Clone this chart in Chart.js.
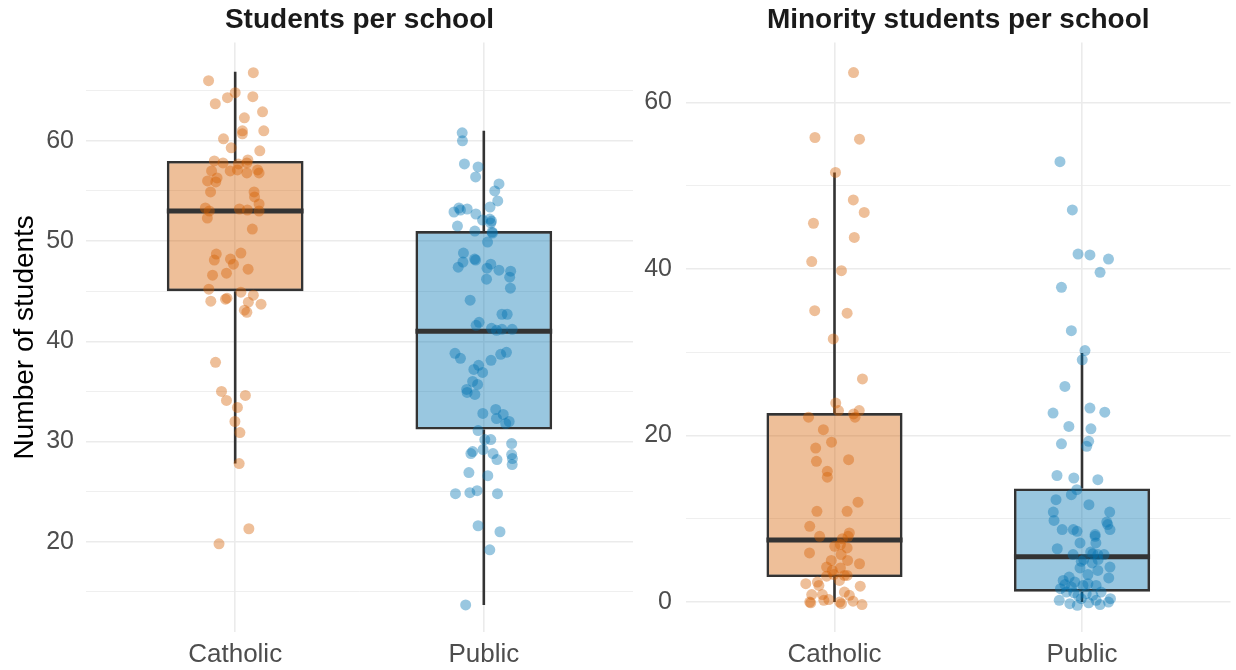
<!DOCTYPE html>
<html>
<head>
<meta charset="utf-8">
<script src="https://cdn.jsdelivr.net/npm/chart.js@4.4.1/dist/chart.umd.min.js"></script>
<style>
  html, body { margin: 0; padding: 0; background: #fff; }
  #wrap { position: relative; width: 1236px; height: 670px; }
  canvas { position: absolute; top: 0; }
  #studentsChart { left: 0; }
  #minorityChart { left: 640px; }
</style>
</head>
<body>
<div id="wrap">
  <canvas id="studentsChart" width="640" height="670"></canvas>
  <canvas id="minorityChart" width="596" height="670"></canvas>
</div>
<script>
const schoolTypes = ["Catholic", "Public"];

// students per school, jitter is the horizontal offset in category units
const catholicStudents = [
  66.0, 66.8, 64.8, 64.3, 64.4, 63.7, 62.9, 62.3, 61.0, 60.7,
  61.0, 60.2, 59.3, 59.0, 58.0, 57.8, 57.7, 58.1, 57.8, 57.0,
  57.0, 57.1, 56.8, 57.1, 56.8, 56.0, 56.3, 55.9, 54.9, 54.9,
  54.4, 53.7, 53.3, 53.0, 53.2, 53.1, 53.0, 52.3, 51.2, 48.7,
  48.8, 48.1, 48.2, 47.7, 47.2, 46.6, 46.8, 45.2, 44.9, 44.0,
  44.2, 44.3, 44.6, 43.9, 43.7, 43.1, 42.9, 37.9, 35.0, 34.6,
  34.1, 33.4, 32.0, 30.9, 27.8, 21.3, 19.8
];
const catholicStudentsJitter = [
  -0.107, 0.073, 0.000, -0.031, 0.071, -0.080, 0.110, 0.037, 0.029, 0.029,
  0.115, -0.047, -0.016, 0.099, -0.084, -0.049, 0.013, 0.051, 0.047, -0.095,
  -0.020, 0.009, 0.047, 0.090, 0.096, -0.111, -0.073, -0.078, -0.099, 0.076,
  0.078, 0.096, -0.120, -0.104, 0.017, 0.049, 0.096, -0.112, 0.069, -0.076,
  0.023, -0.084, -0.019, -0.007, 0.052, -0.091, -0.035, -0.106, 0.023, -0.098,
  -0.039, -0.033, 0.073, 0.053, 0.104, 0.037, 0.047, -0.079, -0.055, 0.041,
  -0.035, 0.009, -0.001, 0.019, 0.016, 0.055, -0.065
];
const publicStudents = [
  60.8, 60.0, 57.7, 57.4, 56.4, 55.7, 55.0, 54.0, 53.4, 53.3,
  52.9, 53.1, 53.2, 52.7, 52.1, 52.2, 52.0, 51.8, 51.5, 50.9,
  51.0, 50.8, 49.9, 48.8, 48.2, 48.1, 47.9, 47.4, 47.7, 47.3,
  47.1, 47.0, 46.4, 46.2, 45.3, 44.1, 42.7, 42.7, 41.9, 41.6,
  41.3, 41.1, 41.2, 41.2, 38.8, 38.3, 38.1, 38.7, 38.9, 37.6,
  37.2, 36.9, 36.0, 35.7, 35.2, 34.9, 34.7, 32.8, 33.2, 32.3,
  32.7, 32.0, 31.8, 31.1, 30.2, 30.2, 29.8, 29.0, 28.8, 29.2,
  28.8, 28.2, 28.7, 28.3, 27.7, 26.9, 26.6, 24.8, 24.9, 25.1,
  24.8, 21.6, 21.0, 19.2, 13.7
];
const publicStudentsJitter = [
  -0.087, -0.086, -0.078, -0.023, -0.033, 0.061, 0.044, 0.056, 0.025, -0.100,
  -0.120, -0.094, -0.067, -0.032, -0.005, 0.024, 0.031, 0.028, -0.106, 0.033,
  -0.036, 0.035, 0.015, -0.082, -0.037, -0.033, -0.084, -0.103, 0.028, 0.013,
  0.061, 0.108, 0.104, 0.011, 0.107, -0.055, 0.073, 0.094, -0.019, -0.031,
  0.031, 0.051, 0.073, 0.114, -0.116, -0.094, 0.029, 0.068, 0.091, -0.021,
  -0.040, -0.005, -0.045, -0.025, -0.069, -0.067, -0.036, -0.004, 0.048, 0.051,
  0.078, 0.102, 0.088, -0.023, 0.004, 0.028, 0.112, -0.045, -0.052, -0.003,
  0.037, 0.053, 0.112, 0.115, 0.114, -0.060, 0.016, -0.114, -0.056, -0.027,
  0.055, -0.023, 0.065, 0.024, -0.073
];

// minority students per school
const catholicMinority = [
  63.6, 55.8, 55.6, 51.6, 48.3, 46.8, 45.5, 43.8, 40.9, 39.8,
  35.0, 34.7, 31.6, 26.8, 23.9, 23.0, 22.6, 23.0, 22.2, 22.2,
  20.7, 19.2, 18.5, 16.9, 17.1, 15.7, 15.0, 12.0, 10.9, 10.9,
  9.1, 7.9, 8.3, 7.9, 7.6, 6.7, 6.9, 6.5, 5.9, 5.7,
  5.0, 5.0, 4.6, 4.2, 4.1, 3.8, 3.1, 3.3, 3.2, 3.2,
  2.2, 2.4, 2.0, 2.6, 1.9, 0.9, 0.9, 1.2, 0.8, 0.0,
  -0.1, 0.2, 0.3, 0.0, -0.2, 0.1, -0.3
];
const catholicMinorityJitter = [
  0.077, -0.079, 0.101, 0.004, 0.076, 0.120, -0.085, 0.080, -0.092, 0.028,
  -0.080, 0.051, -0.005, 0.113, 0.005, 0.016, 0.077, 0.100, 0.083, -0.105,
  -0.045, -0.012, -0.076, -0.073, 0.057, -0.029, -0.029, 0.095, -0.071, 0.051,
  -0.100, -0.060, 0.060, 0.055, 0.032, 0.001, 0.024, 0.051, -0.101, 0.027,
  0.053, -0.013, 0.101, -0.032, 0.024, -0.009, -0.032, -0.003, 0.040, 0.051,
  -0.116, -0.069, -0.063, 0.020, 0.104, -0.092, -0.049, 0.040, 0.060, -0.100,
  -0.096, -0.043, -0.023, 0.021, 0.028, 0.075, 0.111
];
const publicMinority = [
  52.9, 47.1, 41.8, 41.7, 41.2, 39.6, 37.8, 32.6, 30.2, 29.1,
  25.9, 22.7, 23.3, 22.8, 21.1, 20.8, 19.3, 18.7, 19.0, 15.2,
  14.9, 14.7, 13.5, 12.9, 12.3, 11.7, 10.8, 9.8, 10.8, 9.6,
  8.7, 9.3, 8.7, 8.7, 8.5, 8.1, 7.9, 7.1, 7.1, 6.4,
  5.7, 6.0, 5.8, 5.7, 5.7, 4.9, 5.1, 4.7, 5.1, 4.2,
  4.1, 3.8, 3.3, 2.9, 2.6, 3.0, 2.4, 1.6, 2.1, 1.8,
  2.0, 2.2, 2.0, 1.2, 1.1, 0.8, 1.0, 0.8, 1.2, 0.2,
  -0.2, -0.4, -0.1, -0.3, 0.0, 0.4, 0.2, 0.4
];
const publicMinorityJitter = [
  -0.089, -0.039, -0.016, 0.032, 0.107, 0.073, -0.083, -0.043, 0.012, 0.001,
  -0.069, -0.117, 0.032, 0.092, -0.053, 0.036, 0.027, 0.019, -0.083, -0.101,
  -0.033, 0.064, -0.021, -0.043, -0.105, 0.028, -0.116, -0.113, 0.112, 0.100,
  0.113, 0.104, -0.080, -0.035, -0.020, 0.053, 0.053, -0.008, 0.056, -0.100,
  -0.036, 0.035, 0.044, 0.064, 0.089, -0.003, 0.007, 0.041, 0.065, 0.113,
  -0.008, 0.064, 0.024, 0.108, -0.076, -0.052, -0.029, -0.087, -0.069, -0.043,
  0.004, 0.024, 0.057, -0.063, -0.033, -0.016, 0.017, 0.044, 0.077, -0.092,
  -0.049, -0.019, 0.027, 0.073, 0.107, 0.115, 0.057, -0.003
];

// box summaries: [lower whisker, Q1, median, Q3, upper whisker]
const catholicStudentsBox = [27.8, 45.0, 53.0, 58.0, 66.9];
const publicStudentsBox = [13.7, 31.2, 41.0, 51.0, 61.0];
const catholicMinorityBox = [0.0, 3.0, 7.45, 22.7, 51.6];
const publicMinorityBox = [0.0, 1.24, 5.45, 13.65, 29.9];

// y axis ticks (labelled) and minor gridlines
const studentTicks = [20, 30, 40, 50, 60];
const studentMinorTicks = [15, 25, 35, 45, 55, 65];
const minorityTicks = [0, 20, 40, 60];
const minorityMinorTicks = [10, 30, 50];

const fills = ["rgba(213, 94, 0, 0.4)", "rgba(0, 114, 178, 0.4)"];
const ink = "#333333";
const gridColor = "#ebebeb";
const BOX_WIDTH = 0.55;

Chart.defaults.font.family = "'Liberation Sans', Arial, sans-serif";

function segment(points, width, order) {
  return {
    type: "line",
    data: points,
    borderColor: ink,
    borderWidth: width,
    pointRadius: 0,
    order: order
  };
}

function makePanel(canvasId, p) {
  const datasets = [];

  // jittered schools, drawn over the boxes
  p.points.forEach((vals, i) => {
    datasets.push({
      type: "scatter",
      data: vals.map((v, j) => ({ x: i + 1 + p.jitter[i][j], y: v })),
      backgroundColor: fills[i],
      borderWidth: 0,
      pointRadius: 5.5,
      pointHoverRadius: 5.5,
      order: 0
    });
  });

  // median bar and the two whiskers of each box
  p.boxes.forEach((b, i) => {
    const x = i + 1;
    datasets.push(segment([{ x: x - BOX_WIDTH / 2, y: b[2] }, { x: x + BOX_WIDTH / 2, y: b[2] }], 5, 1));
    datasets.push(segment([{ x: x, y: b[0] }, { x: x, y: b[1] }], 2.6, 2));
    datasets.push(segment([{ x: x, y: b[3] }, { x: x, y: b[4] }], 2.6, 2));
  });

  // Q1..Q3 boxes as floating bars
  datasets.push({
    type: "bar",
    data: p.boxes.map((b, i) => ({ x: i + 1, y: [b[1], b[3]] })),
    backgroundColor: fills,
    borderColor: ink,
    borderWidth: 2.6,
    borderSkipped: false,
    barPercentage: BOX_WIDTH,
    categoryPercentage: 1,
    order: 3
  });

  const allTicks = p.ticks.concat(p.minor).sort((a, b) => a - b);

  return new Chart(document.getElementById(canvasId), {
    type: "scatter",
    data: { datasets: datasets },
    options: {
      responsive: false,
      animation: false,
      events: [],
      layout: { padding: { left: 0, right: p.padRight, top: 0, bottom: 0 } },
      plugins: {
        legend: { display: false },
        tooltip: { enabled: false },
        title: {
          display: true,
          text: p.title,
          fullSize: false,
          color: "#1a1a1a",
          font: { size: 28, weight: "bold" },
          padding: { top: 3, bottom: 6 }
        }
      },
      scales: {
        x: {
          type: "linear",
          min: 0.4,
          max: 2.6,
          offset: false,
          afterBuildTicks: axis => { axis.ticks = schoolTypes.map((_, i) => ({ value: i + 1 })); },
          afterFit: axis => { axis.height = 38; },
          ticks: {
            autoSkip: false,
            maxRotation: 0,
            padding: 7,
            color: "#4d4d4d",
            font: { size: 26 },
            callback: v => schoolTypes[v - 1]
          },
          grid: { color: gridColor, lineWidth: 1.6, drawTicks: false, offset: false },
          border: { display: false }
        },
        y: {
          min: p.yMin,
          max: p.yMax,
          afterBuildTicks: axis => { axis.ticks = allTicks.map(v => ({ value: v })); },
          afterFit: axis => { axis.width = p.axisWidth; },
          ticks: {
            autoSkip: false,
            padding: p.tickPad,
            color: "#4d4d4d",
            font: { size: 25 },
            callback: v => (p.ticks.includes(v) ? v : "")
          },
          grid: {
            color: gridColor,
            drawTicks: false,
            lineWidth: ctx => (p.ticks.includes(ctx.tick.value) ? 1.6 : 0.8)
          },
          border: { display: false },
          title: {
            display: !!p.yTitle,
            text: p.yTitle,
            color: "#000000",
            font: { size: 28 },
            padding: { top: 8, bottom: 0 }
          }
        }
      }
    }
  });
}

makePanel("studentsChart", {
  title: "Students per school",
  yTitle: "Number of students",
  points: [catholicStudents, publicStudents],
  jitter: [catholicStudentsJitter, publicStudentsJitter],
  boxes: [catholicStudentsBox, publicStudentsBox],
  ticks: studentTicks,
  minor: studentMinorTicks,
  yMin: 11.0,
  yMax: 69.8,
  axisWidth: 86,
  tickPad: 12,
  padRight: 7
});

makePanel("minorityChart", {
  title: "Minority students per school",
  yTitle: "",
  points: [catholicMinority, publicMinority],
  jitter: [catholicMinorityJitter, publicMinorityJitter],
  boxes: [catholicMinorityBox, publicMinorityBox],
  ticks: minorityTicks,
  minor: minorityMinorTicks,
  yMin: -3.6,
  yMax: 67.2,
  axisWidth: 46,
  tickPad: 14,
  padRight: 0
});
</script>
</body>
</html>
